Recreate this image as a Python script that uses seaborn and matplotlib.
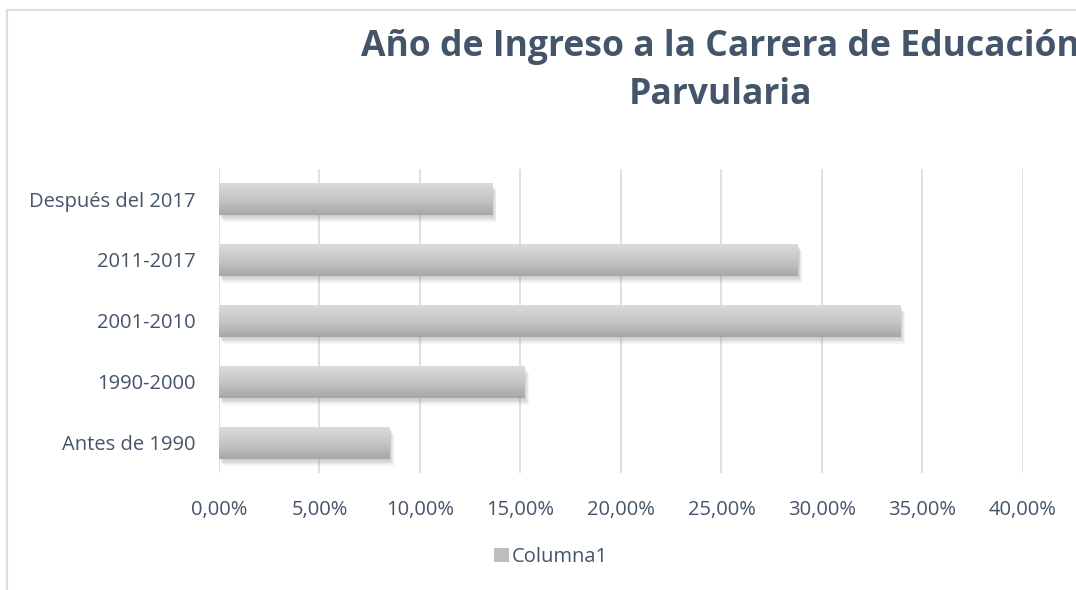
import numpy as np
import pandas as pd
import matplotlib
matplotlib.use("Agg")
import matplotlib.pyplot as plt
import matplotlib.patheffects as pe
from matplotlib.patches import Rectangle
from matplotlib.lines import Line2D
from matplotlib.ticker import FuncFormatter, MultipleLocator
import seaborn as sns

categories = ["Después del 2017", "2011-2017", "2001-2010", "1990-2000", "Antes de 1990"]
values = [13.6, 28.8, 33.9, 15.2, 8.5]
series_name = "Columna1"
title = "Año de Ingreso a la Carrera de Educación\nParvularia"

sns.set_theme(style="white")
plt.rcParams["font.family"] = ["Open Sans", "DejaVu Sans"]

TEXT = "#44546A"
GRID = "#D9DEE6"

df = pd.DataFrame({"cat": categories, "val": values})

fig = plt.figure(figsize=(10.76, 5.90), dpi=100)
ax = fig.add_axes([0.2035, 0.1975, 0.7472, 0.5169])

sns.barplot(data=df, y="cat", x="val", orient="h", color="#BFBFBF", width=0.52, ax=ax,
            saturation=1)

grad = np.linspace(0, 1, 256).reshape(-1, 1)
cmap = matplotlib.colors.LinearSegmentedColormap.from_list("g", ["#DBDBDB", "#C6C6C6", "#A7A7A7"])
shadows = [pe.SimplePatchShadow(offset=(0.6 * o, -o), shadow_rgbFace="#7F7F7F", alpha=0.09)
           for o in (1, 2, 3, 4, 5)]
for p in ax.patches:
    p.set_edgecolor("none")
    p.set_path_effects(shadows + [pe.Normal()])
    x0, y0 = p.get_x(), p.get_y()
    w, h = p.get_width(), p.get_height()
    im = ax.imshow(grad, cmap=cmap, aspect="auto", extent=(x0, x0 + w, y0 + h, y0),
                   origin="upper", zorder=p.get_zorder() + 0.1)
    im.set_clip_path(p)

ax.set_xlim(0, 40)
ax.set_ylim(4.5, -0.5)
ax.xaxis.set_major_locator(MultipleLocator(5))
ax.xaxis.set_major_formatter(FuncFormatter(lambda v, _: f"{v:.2f}%".replace(".", ",")))
ax.grid(axis="x", color=GRID, linewidth=1.3)
ax.grid(axis="y", visible=False)
ax.set_axisbelow(True)
for s in ax.spines.values():
    s.set_visible(False)
ax.set_xlabel("")
ax.set_ylabel("")
ax.tick_params(axis="both", length=0, labelsize=14.5, colors=TEXT)
ax.tick_params(axis="x", pad=19)
ax.tick_params(axis="y", pad=17)

fig.text(720 / 1076, 1 - 71 / 590, title, ha="center", va="center", fontsize=25.6,
         fontweight="bold", color=TEXT, linespacing=1.48)

# chart area border (partially outside the image)
fig.add_artist(Line2D([7 / 1076, 7 / 1076], [0, 1 - 10 / 590], color=GRID, lw=1.5))
fig.add_artist(Line2D([7 / 1076, 1], [1 - 10 / 590, 1 - 10 / 590], color=GRID, lw=1.5))

handle = Rectangle((0, 0), 1, 1, facecolor="#BDBDBD", edgecolor="none")
fig.legend([handle], [series_name], loc="center", bbox_to_anchor=(551 / 1076, 1 - 557 / 590),
           frameon=False, fontsize=14.5, labelcolor=TEXT, handlelength=0.75, handleheight=0.75,
           handletextpad=0.15)

fig.savefig("out.png", dpi=100)
